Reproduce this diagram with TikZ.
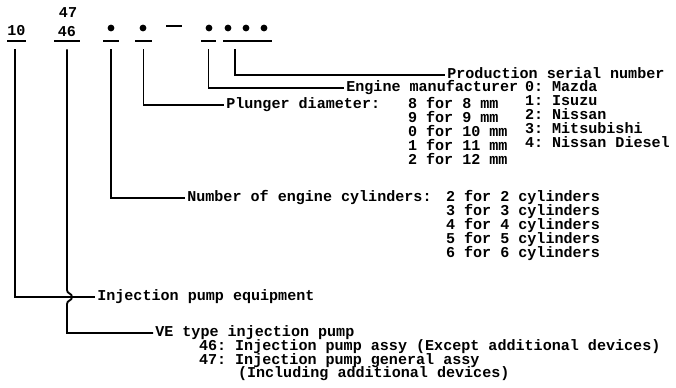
\documentclass[tikz,border=0pt]{standalone}
\usepackage{fontspec}
\setmainfont{Liberation Mono}
\usetikzlibrary{calc}
\frenchspacing

\begin{document}
\begin{tikzpicture}[
  x=0.65pt, y=-0.65pt,
  every node/.style={font=\fontsize{9.8pt}{11pt}\selectfont\bfseries},
  num/.style={inner sep=0pt},
  lbl/.style={anchor=west, inner sep=0pt, outer sep=1.5pt, text height=7pt, text depth=2pt},
  val/.style={lbl, outer sep=0pt},
  dot/.style={circle, fill, inner sep=0pt, minimum size=4.4pt},
  uline/.style={fill, inner sep=0pt, minimum height=1.3pt},
  conn/.style={line width=1.2pt}
]
\useasboundingbox (0,0) rectangle (676,387);

% code fields
\node[num] (n10) at (16.5,31) {10};
\node[num] (n46) at (67,31.5) {46};
\node[num] (n47) at (68,13) {47};
\node[dot] (dcyl) at (111,28) {};
\node[dot] (dplg) at (143,28) {};
\node[uline, minimum width=10.4pt] (dash) at (174,26) {};
\node[dot] (dmfr) at (209,28) {};
\foreach \x [count=\i] in {228,246,264}
  \node[dot] (dser\i) at (\x,28) {};

% underlines
\node[uline, minimum width=12.4pt] (u10) at (16.5,41) {};
\node[uline, minimum width=16.9pt] (u46) at (67,41) {};
\node[uline, minimum width=10.4pt] (ucyl) at (111,41) {};
\node[uline, minimum width=11pt] (uplg) at (143.5,41) {};
\node[uline, minimum width=9.8pt] (umfr) at (208.5,41) {};
\node[uline, minimum width=31.9pt] (user) at (247.5,41) {};

% labels
\node[lbl] (ser) at (445,75) {Production serial number};
\node[lbl] (mfr) at (344,88) {Engine manufacturer};
\node[lbl] (plg) at (224,105) {Plunger diameter:};
\node[lbl] (cyl) at (185,198) {Number of engine cylinders:};
\node[lbl] (equip) at (95,297) {Injection pump equipment};
\node[lbl] (ve) at (153,333) {VE type injection pump};

% value lists
\foreach \m [count=\i from 0] in {Mazda,Isuzu,Nissan,Mitsubishi,Nissan Diesel}
  \node[val] (mfr\i) at (525,88+13.8*\i) {\i: \m};
\foreach \c/\d [count=\i] in {8/8,9/9,0/10,1/11,2/12}
  \node[val] (plg\i) at (408,91.2+13.8*\i) {\c{} for \d{} mm};
\foreach \n [count=\i] in {2,...,6}
  \node[val] (cyl\i) at (446,184.2+13.8*\i) {\n{} for \n{} cylinders};
\node[val] (ve46) at (199,347) {46: Injection pump assy (Except additional devices)};
\node[val] (ve47) at (199,360.5) {47: Injection pump general assy};
\node[val] (ve47b) at (238,374) {(Including additional devices)};

% connectors
\draw[conn] ([xshift=-8.1pt,yshift=-4.6pt]user.south) |- (ser);
\draw[conn] ([yshift=-4.6pt]umfr.south) |- (mfr);
\draw[conn] ([yshift=-4.6pt]uplg.south) |- (plg);
\draw[conn] ([yshift=-4.6pt]ucyl.south) |- (cyl);
\draw[conn] ([xshift=-1.2pt,yshift=-4.6pt]u10.south) |- (equip);
\coordinate (hop) at (u46 |- equip);
\draw[conn] ([yshift=-4.6pt]u46.south) -- ($(hop)+(0,-7)$)
  .. controls +(0,4) and +(0,-4) .. ($(hop)+(5,0)$)
  .. controls +(0,4) and +(0,-4) .. ($(hop)+(0,7)$) |- (ve);

\end{tikzpicture}
\end{document}
